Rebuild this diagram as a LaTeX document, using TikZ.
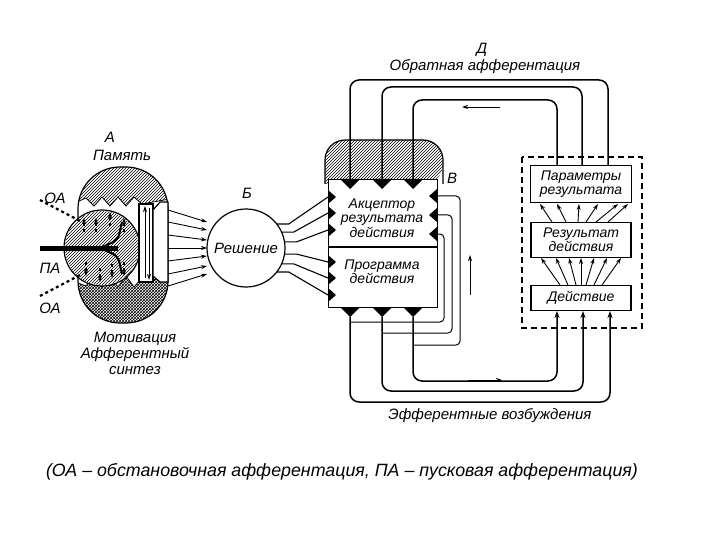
\documentclass[tikz,border=0pt]{standalone}
\usepackage{fontspec}
\setmainfont{Liberation Sans}
\usetikzlibrary{patterns,arrows.meta}
\begin{document}
\begin{tikzpicture}[x=1pt,y=-1pt,line width=1.2pt,
 lbl/.style={font=\itshape\fontsize{15}{16}\selectfont,align=center,inner sep=1pt},
 tl/.style={font=\itshape\fontsize{14}{14.5}\selectfont,align=center,inner sep=1pt},
 arr/.style={-{Stealth[length=6pt,width=4pt]},line width=0.9pt},
 lp/.style={rounded corners=9pt,line width=1.5pt},
 bx/.style={draw,fill=white,line width=1.3pt,tl}]
\useasboundingbox[fill=white] (0,0) rectangle (720,540);
% ---- block A
\begin{scope}
 \clip[rounded corners=42pt] (78,167) rectangle (168,323);
 \fill[pattern=north east lines] (70,160) -- (70,205) -- (86,198) -- (94,206) -- (102,197) -- (110,206) -- (118,197) -- (126,206) -- (134,197) -- (142,204) -- (175,198) -- (175,160) -- cycle;
 \fill[pattern=crosshatch] (70,330) -- (70,280) -- (86,286) -- (94,276) -- (102,287) -- (110,276) -- (118,287) -- (126,276) -- (134,287) -- (142,278) -- (175,282) -- (175,330) -- cycle;
 \draw[line width=0.8pt] (70,205) -- (86,198) -- (94,206) -- (102,197) -- (110,206) -- (118,197) -- (126,206) -- (134,197) -- (142,204) -- (175,198);
 \draw[line width=0.8pt] (70,280) -- (86,286) -- (94,276) -- (102,287) -- (110,276) -- (118,287) -- (126,276) -- (134,287) -- (142,278) -- (175,282);
\end{scope}
\draw[rounded corners=42pt] (78,167) rectangle (168,323);
\node[circle,draw,fill=white,minimum size=76pt,inner sep=0pt] (mem) at (102,248) {};
\fill[pattern=north east lines] (102,248) circle (37);
% strip and bracket
\draw[fill=white] (139,204) rectangle (153,282);
\draw[fill=white] (153,210) -- (160,202) -- (168,202) -- (168,282) -- (160,282) -- (153,276) -- cycle;
\draw[arr] (145,278) -- (145,206);
\draw[arr] (149,208) -- (149,280);
% PA thick line
\draw[line width=5pt] (40,248) -- (118,248);
\draw[line width=2pt,rounded corners=6pt] (100,248) -- (118,240) -- (122,222);
\draw[line width=2pt,rounded corners=6pt] (100,248) -- (118,256) -- (122,274);
\foreach \x/\y/\d in {84/232/-1,96/232/-1,110/226/-1,124/232/-1,86/262/1,100/268/1,112/264/1,124/262/1}
  \draw[arr,dashed,line width=1.1pt] (\x,\y) -- ++(0,14*\d);
\draw[dashed,line width=2.2pt] (40,200) -- (82,222);
\draw[dashed,line width=2.2pt] (40,296) -- (82,274);
\node[lbl] (la) at (110,137) {А};
\node[lbl] (lmem) at (122,155) {Память};
\node[lbl] (oa1) at (55,198) {ОА};
\node[lbl] (pa) at (50,268) {ПА};
\node[lbl] (oa2) at (50,308) {ОА};
\node[lbl] (mot) at (135,353) {Мотивация\\Афферентный\\синтез};
% ---- Б
\node[circle,draw,minimum size=78pt,inner sep=0pt,lbl] (dec) at (246,248) {Решение};
\node[lbl] (lb) at (247,193) {Б};
\foreach \y/\t in {210/222,222/230,235/240,248/248,261/256,274/266,286/274}
  \draw[arr] (168,\y) -- (207,\t);
% ---- block V
\fill[pattern=north east lines,rounded corners=20pt] (325,184) -- (325,140) -- (443,140) -- (443,184) [sharp corners] -- cycle;
\draw[rounded corners=20pt] (325,184) -- (325,140) -- (443,140) -- (443,184);
\node[draw,fill=white,line width=1.3pt,minimum width=109pt,minimum height=128pt,anchor=north west] (V) at (328,179) {};
\draw[line width=1.3pt] (328,247) -- (437,247);
\node[tl] (acc) at (382,218) {Акцептор\\результата\\действия};
\node[tl] (prog) at (382,272) {Программа\\действия};
\node[lbl] (lv) at (452,178) {В};
\foreach \x in {350,382,413} {
  \fill (\x-10,179) -- (\x+10,179) -- (\x,189) -- cycle;
  \fill (\x-10,307) -- (\x+10,307) -- (\x,317) -- cycle;
}
\foreach \y in {197,213,230,262,278,295}
  \fill (328,\y-7) -- (336,\y) -- (328,\y+7) -- cycle;
\foreach \y in {196,215,234}
  \fill (437,\y-7) -- (429,\y) -- (437,\y+7) -- cycle;
\foreach \y/\a in {197/-38,213/-24,230/-9,262/9,278/24,295/38}
  \draw[line width=1.1pt] (dec.center) ++(\a:39) -- ++(12,0) -- (328,\y);
% local loops
\draw[line width=1pt,rounded corners=4pt] (437,196) -- (460,196) -- (460,345) -- (413,345);
\draw[line width=1pt,rounded corners=4pt] (437,215) -- (452,215) -- (452,333) -- (382,333);
\draw[line width=1pt,rounded corners=4pt] (437,234) -- (444,234) -- (444,322) -- (350,322);
% efferent loops
\draw[lp,-{Stealth[length=7pt,width=5pt]}] (350,317) -- (350,402) -- (610,402) -- (610,311);
\draw[lp,-{Stealth[length=7pt,width=5pt]}] (382,317) -- (382,391) -- (583,391) -- (583,311);
\draw[lp,-{Stealth[length=7pt,width=5pt]}] (413,317) -- (413,381) -- (557,381) -- (557,311);
% afferent loops
\draw[lp] (608,166) -- (608,80) -- (350,80) -- (350,180);
\draw[lp] (582,166) -- (582,87) -- (382,87) -- (382,180);
\draw[lp] (557,166) -- (557,100) -- (413,100) -- (413,180);
\draw[arr] (500,107) -- (462,107);
\draw[arr] (470,295) -- (470,255);
\draw[arr] (468,380) -- (502,380);
% dashed box
\draw[dash pattern=on 6pt off 4pt,line width=1.2pt] (522,157) rectangle (642,328);
\node[bx,minimum width=101pt,minimum height=37pt] (par) at (581,184) {Параметры\\результата};
\node[bx,minimum width=100pt,minimum height=35pt] (res) at (581,240) {Результат\\действия};
\node[bx,minimum width=100pt,minimum height=25pt] (act) at (581,298) {Действие};
\foreach \a/\b in {552/540,566/557,578/579,586/598,596/618,608/628}
  \draw[arr] (\a,222) -- (\b,204);
\foreach \a/\b in {560/541,568/556,576/569,581/581,586/594,594/607,602/621}
  \draw[arr] (\a,285) -- (\b,258);
\node[lbl] (ld) at (482,50) {Д};
\node[lbl] (lobr) at (485,67) {Обратная афферентация};
\node[lbl] (leff) at (490,416) {Эфферентные возбуждения};
\node[font=\itshape\fontsize{17.8}{19}\selectfont] (cap) at (342,472) {(ОА – обстановочная афферентация, ПА – пусковая афферентация)};
\end{tikzpicture}
\end{document}
